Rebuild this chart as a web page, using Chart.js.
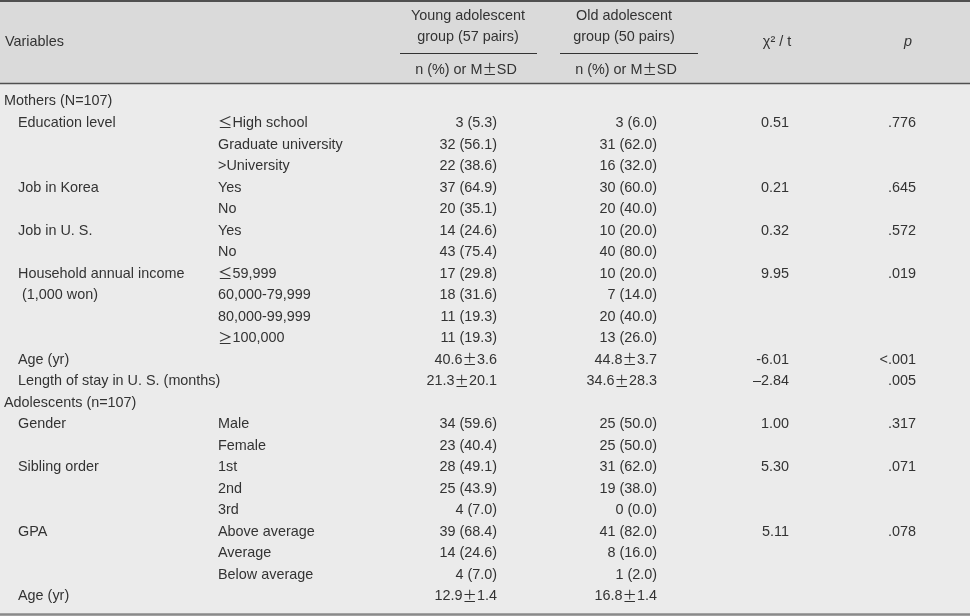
<!DOCTYPE html>
<html>
<head>
<meta charset="utf-8">
<script src="https://cdn.jsdelivr.net/npm/chart.js@4/dist/chart.umd.min.js"></script>
<style>
    html, body { margin: 0; padding: 0; background: #ececec; }
    #wrap { width: 970px; height: 616px; position: relative; }
</style>
</head>
<body>
<div id="wrap"><canvas id="tableChart"></canvas></div>
<script>
// Table content, one entry per body row
const variables = [
    'Mothers (N=107)', 'Education level', '', '', 'Job in Korea', '', 'Job in U. S.', '',
    'Household annual income', ' (1,000 won)', '', '', 'Age (yr)', 'Length of stay in U. S. (months)',
    'Adolescents (n=107)', 'Gender', '', 'Sibling order', '', '', 'GPA', '', '', 'Age (yr)',
];
const categories = [
    '', '≤High school', 'Graduate university', '>University', 'Yes', 'No', 'Yes', 'No',
    '≤59,999', '60,000-79,999', '80,000-99,999', '≥100,000', '', '',
    '', 'Male', 'Female', '1st', '2nd', '3rd', 'Above average', 'Average', 'Below average', '',
];
const youngGroup = [
    '', '3 (5.3)', '32 (56.1)', '22 (38.6)', '37 (64.9)', '20 (35.1)', '14 (24.6)', '43 (75.4)',
    '17 (29.8)', '18 (31.6)', '11 (19.3)', '11 (19.3)', '40.6±3.6', '21.3±20.1',
    '', '34 (59.6)', '23 (40.4)', '28 (49.1)', '25 (43.9)', '4 (7.0)', '39 (68.4)', '14 (24.6)', '4 (7.0)', '12.9±1.4',
];
const oldGroup = [
    '', '3 (6.0)', '31 (62.0)', '16 (32.0)', '30 (60.0)', '20 (40.0)', '10 (20.0)', '40 (80.0)',
    '10 (20.0)', '7 (14.0)', '20 (40.0)', '13 (26.0)', '44.8±3.7', '34.6±28.3',
    '', '25 (50.0)', '25 (50.0)', '31 (62.0)', '19 (38.0)', '0 (0.0)', '41 (82.0)', '8 (16.0)', '1 (2.0)', '16.8±1.4',
];
const statValues = [
    '', '0.51', '', '', '0.21', '', '0.32', '', '9.95', '', '', '', '-6.01', '–2.84',
    '', '1.00', '', '5.30', '', '', '5.11', '', '', '',
];
const pValues = [
    '', '.776', '', '', '.645', '', '.572', '', '.019', '', '', '', '<.001', '.005',
    '', '.317', '', '.071', '', '', '.078', '', '', '',
];

const LOOK = {
    font: '"Liberation Sans", Arial, sans-serif',
    symFont: '"Noto Sans CJK KR", "Noto Sans CJK SC", sans-serif',
    size: 14.4,
    text: '#333333',
    headBg: '#dadada',
    bodyBg: '#ebebeb',
    rule: '#505050',
};

// column anchors and row grid in scale units (x: 0..970, y: 0..616)
const COLS = { section: 4, variable: 18, category: 218, young: 497, old: 657, stat: 789, p: 916 };
const FIRST_ROW = 101.5;
const ROW_STEP = 21.52;
const WIDE_SYMBOLS = /([±≤≥])/;

const tablePlugin = {
    id: 'tableDraw',
    beforeDraw(chart) {
        const { ctx, scales: { x, y } } = chart;
        const px = v => x.getPixelForValue(v);
        const py = v => y.getPixelForValue(v);
        ctx.save();

        // backgrounds
        ctx.fillStyle = LOOK.bodyBg;
        ctx.fillRect(px(0), py(0), px(970) - px(0), py(616) - py(0));
        ctx.fillStyle = LOOK.headBg;
        ctx.fillRect(px(0), py(2), px(970) - px(0), py(83) - py(2));

        // rules
        const hline = (yv, x0, x1, w, c) => {
            ctx.beginPath();
            ctx.lineWidth = w;
            ctx.strokeStyle = c;
            ctx.moveTo(px(x0), py(yv));
            ctx.lineTo(px(x1), py(yv));
            ctx.stroke();
        };
        hline(1, 0, 970, 2, LOOK.rule);
        hline(83.5, 0, 970, 1.5, LOOK.rule);
        hline(53.5, 400, 537, 1.2, '#333');
        hline(53.5, 560, 698, 1.2, '#333');
        hline(614.5, 0, 970, 2.5, '#8a8a8a');

        // text, with ± ≤ ≥ set in a full-width font like the original
        ctx.fillStyle = LOOK.text;
        ctx.textBaseline = 'middle';
        ctx.textAlign = 'left';
        let style = '';
        const fontFor = part => WIDE_SYMBOLS.test(part)
            ? `${style}${LOOK.size}px ${LOOK.symFont}`
            : `${style}${LOOK.size}px ${LOOK.font}`;
        const put = (s, xv, yv, align) => {
            if (!s) return;
            const parts = s.split(WIDE_SYMBOLS).filter(Boolean);
            const widths = parts.map(part => { ctx.font = fontFor(part); return ctx.measureText(part).width; });
            const total = widths.reduce((a, b) => a + b, 0);
            let cx = px(xv);
            if (align === 'right') cx -= total;
            if (align === 'center') cx -= total / 2;
            parts.forEach((part, k) => {
                ctx.font = fontFor(part);
                ctx.fillText(part, cx, py(yv));
                cx += widths[k];
            });
        };

        put('Variables', 5, 42, 'left');
        put('Young adolescent', 468, 16, 'center');
        put('group (57 pairs)', 468, 37, 'center');
        put('n (%) or M±SD', 466, 70, 'center');
        put('Old adolescent', 624, 16, 'center');
        put('group (50 pairs)', 624, 37, 'center');
        put('n (%) or M±SD', 626, 70, 'center');
        put('χ² / t', 777, 42, 'center');
        style = 'italic ';
        put('p', 908, 42, 'center');
        style = '';

        // body rows
        variables.forEach((label, i) => {
            const yv = FIRST_ROW + i * ROW_STEP;
            const isSection = !youngGroup[i];
            put(label, isSection ? COLS.section : COLS.variable, yv, 'left');
            put(categories[i], COLS.category, yv, 'left');
            put(youngGroup[i], COLS.young, yv, 'right');
            put(oldGroup[i], COLS.old, yv, 'right');
            put(statValues[i], COLS.stat, yv, 'right');
            put(pValues[i], COLS.p, yv, 'right');
        });

        ctx.restore();
    },
};

function renderTable() {
    const canvas = document.getElementById('tableChart');
    new Chart(canvas, {
        type: 'scatter',
        data: { datasets: [] },
        options: {
            responsive: true,
            maintainAspectRatio: false,
            animation: false,
            layout: { padding: 0 },
            plugins: { legend: { display: false }, tooltip: { enabled: false } },
            scales: {
                x: { type: 'linear', min: 0, max: 970, display: false },
                y: { type: 'linear', min: 0, max: 616, reverse: true, display: false },
            },
        },
        plugins: [tablePlugin],
    });
}

document.addEventListener('DOMContentLoaded', renderTable);
</script>
</body>
</html>
